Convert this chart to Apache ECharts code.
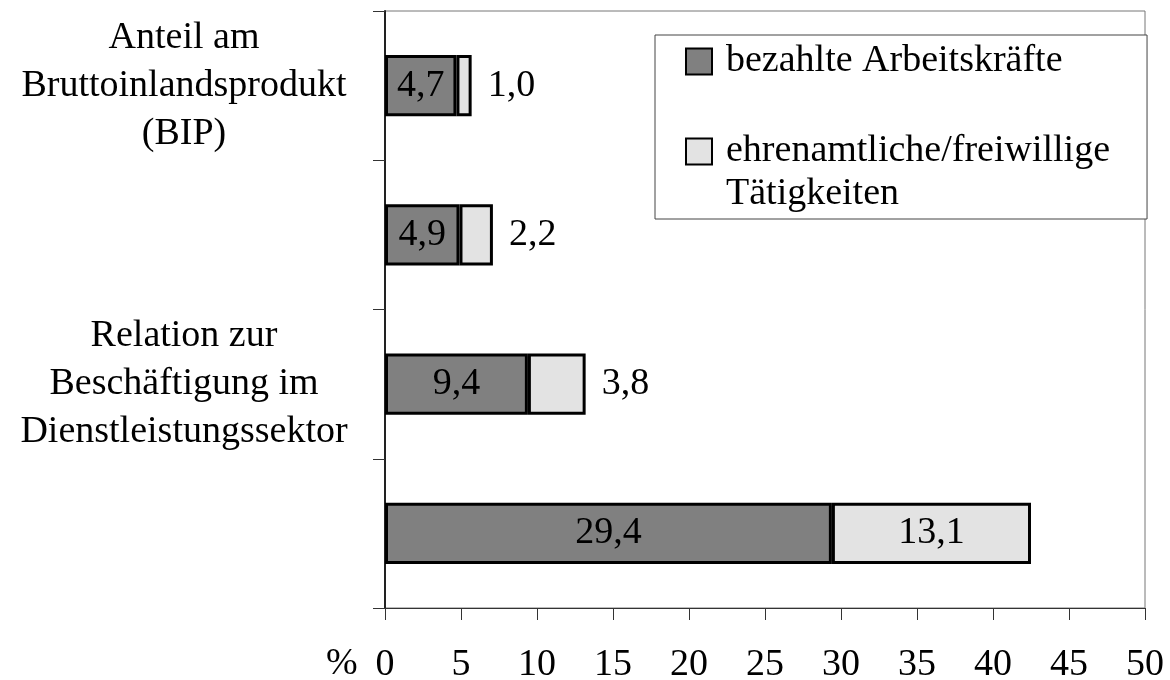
<!DOCTYPE html>
<html>
<head>
<meta charset="utf-8">
<script src="https://cdn.jsdelivr.net/npm/echarts@6/dist/echarts.min.js"></script>
<style>
  html, body { margin: 0; padding: 0; background: #fff; }
  #main { width: 1170px; height: 680px; }
</style>
</head>
<body>
<div id="main"></div>
<script>
var categories = ['Anteil am\nBruttoinlandsprodukt\n(BIP)', '', 'Relation zur\nBeschäftigung im\nDienstleistungssektor', ''];
var seriesNames = ['bezahlte Arbeitskräfte', 'ehrenamtliche/freiwillige\nTätigkeiten'];
var bezahlt = [4.7, 4.9, 9.4, 29.4];
var ehrenamtlich = [1.0, 2.2, 3.8, 13.1];

var FONT = 'Liberation Serif';
var FS = 38;
var myChart = echarts.init(document.getElementById('main'));

function komma(p) {
    return p.value.toFixed(1).replace('.', ',');
}

// light segments: label outside when the bar is small
var lightData = ehrenamtlich.map(function (v) {
    return {
        value: v,
        label: v > 8 ? { position: 'inside' } : { position: 'right', distance: 16 }
    };
});

var option = {
    animation: false,
    textStyle: { fontFamily: FONT },
    grid: {
        left: 385, right: 25, top: 11, bottom: 72,
        outerBoundsMode: 'none',
        containLabel: false,
        show: true, borderColor: '#777', borderWidth: 1
    },
    legend: {
        orient: 'vertical',
        left: 655, top: 35,
        padding: [5, 37, 3, 30],
        itemGap: 4,
        itemWidth: 26, itemHeight: 26,
        icon: 'rect',
        backgroundColor: '#fff',
        borderColor: '#444', borderWidth: 1,
        textStyle: { fontFamily: FONT, fontSize: FS, color: '#000', lineHeight: 43, padding: [0, 0, 0, 9] },
        // the multi-line entry gets an empty first line so its icon sits on the first text line
        formatter: function (name) {
            return name.indexOf('\n') >= 0 ? '\n' + name : name;
        },
        data: seriesNames
    },
    xAxis: {
        type: 'value',
        min: 0, max: 50, interval: 5,
        axisLine: { show: true, lineStyle: { color: '#333', width: 1 } },
        axisTick: { show: true, length: 12, lineStyle: { color: '#333' } },
        splitLine: { show: false },
        axisLabel: { fontFamily: FONT, fontSize: FS, color: '#000', margin: 37, lineHeight: 40 }
    },
    yAxis: {
        type: 'category',
        inverse: true,
        data: categories,
        axisLine: { show: true, lineStyle: { color: '#222', width: 2 } },
        axisTick: { show: true, length: 12, lineStyle: { color: '#333' } },
        axisLabel: {
            fontFamily: FONT, fontSize: FS, color: '#000',
            align: 'center', margin: 201, lineHeight: 48
        }
    },
    graphic: [{
        type: 'text',
        left: 326, top: 645,
        style: { text: '%', font: FS + 'px "Liberation Serif"', fill: '#000' }
    }],
    series: [{
        name: seriesNames[0],
        type: 'bar',
        stack: 'a',
        barCategoryGap: '59%',
        itemStyle: { color: '#808080', borderColor: '#000', borderWidth: 3 },
        label: { show: true, position: 'inside', fontFamily: FONT, fontSize: FS, color: '#000', formatter: komma },
        data: bezahlt
    }, {
        name: seriesNames[1],
        type: 'bar',
        stack: 'a',
        itemStyle: { color: '#e3e3e3', borderColor: '#000', borderWidth: 3 },
        label: { show: true, fontFamily: FONT, fontSize: FS, color: '#000', formatter: komma },
        data: lightData
    }]
};

myChart.setOption(option);
</script>
</body>
</html>
